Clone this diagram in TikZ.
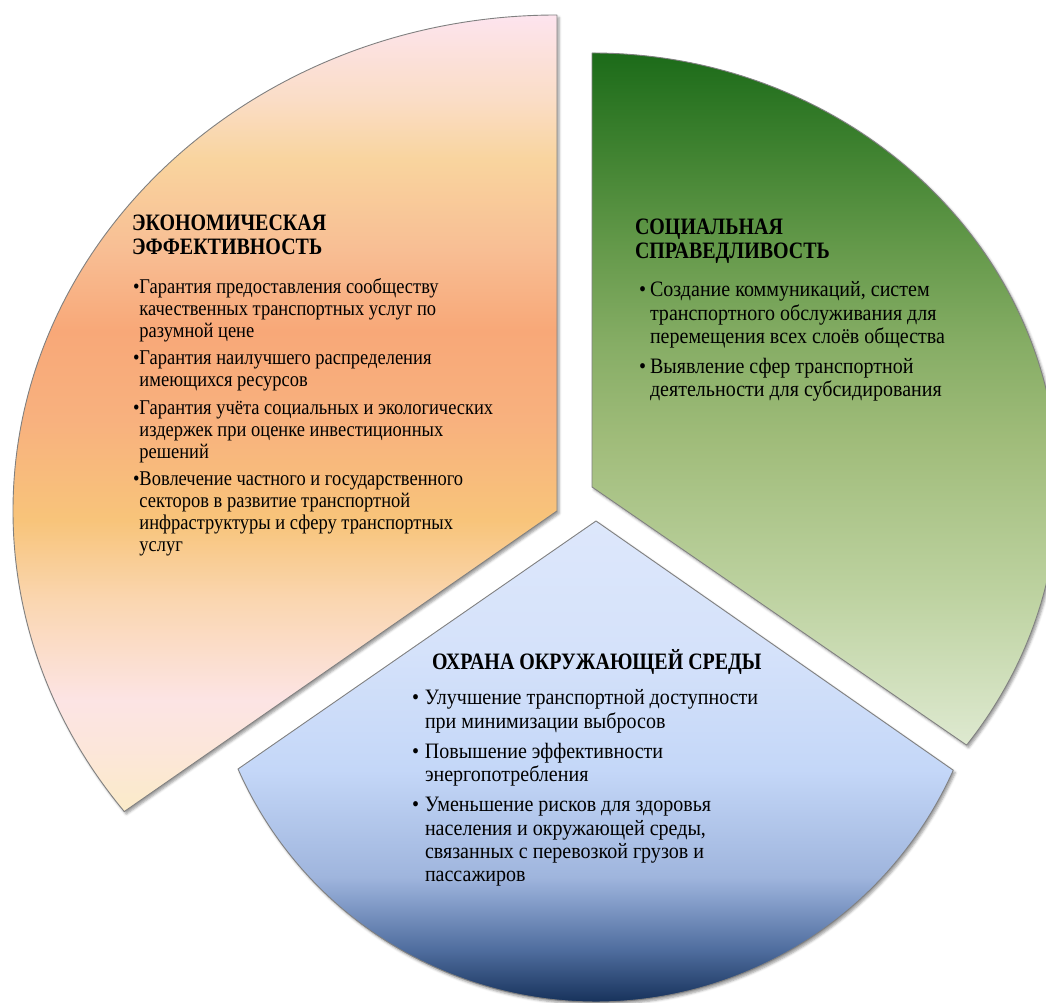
\documentclass[tikz,border=0pt]{standalone}
\usepackage{fontspec}
\setmainfont{Liberation Serif}[FakeStretch=0.91]
\newfontfamily\headfam{Liberation Serif}[FakeStretch=0.85]
\newfontfamily\econfam{Liberation Serif}[FakeStretch=0.88]
\usetikzlibrary{shadows.blur}

% outline and shading colours
\definecolor{edgegray}{HTML}{808080}

% economic sector: cream, pink, peach, orange, salmon, peach, pink (bottom to top)
\pgfdeclareverticalshading{econshade}{100bp}{%
  color(0bp)=(rgb,255:red,251;green,235;blue,200);
  color(25bp)=(rgb,255:red,251;green,235;blue,200);
  color(29bp)=(rgb,255:red,252;green,230;blue,218);
  color(32bp)=(rgb,255:red,252;green,228;blue,228);
  color(38.3bp)=(rgb,255:red,250;green,214;blue,176);
  color(43.3bp)=(rgb,255:red,248;green,196;blue,122);
  color(49.6bp)=(rgb,255:red,248;green,177;blue,126);
  color(55.2bp)=(rgb,255:red,248;green,168;blue,120);
  color(60.3bp)=(rgb,255:red,248;green,190;blue,148);
  color(65.9bp)=(rgb,255:red,249;green,212;blue,158);
  color(69.7bp)=(rgb,255:red,250;green,221;blue,198);
  color(75bp)=(rgb,255:red,253;green,228;blue,238);
  color(100bp)=(rgb,255:red,253;green,228;blue,238)}

% social sector: light green at the bottom to dark green at the top
\pgfdeclareverticalshading{socialshade}{100bp}{%
  color(0bp)=(rgb,255:red,222;green,233;blue,208);
  color(25bp)=(rgb,255:red,222;green,233;blue,208);
  color(36bp)=(rgb,255:red,189;green,210;blue,160);
  color(47bp)=(rgb,255:red,160;green,188;blue,122);
  color(54bp)=(rgb,255:red,134;green,173;blue,101);
  color(61bp)=(rgb,255:red,100;green,153;blue,74);
  color(68bp)=(rgb,255:red,63;green,130;blue,48);
  color(75bp)=(rgb,255:red,28;green,107;blue,25);
  color(100bp)=(rgb,255:red,28;green,107;blue,25)}

% environment sector: navy at the bottom to pale blue at the top
\pgfdeclareverticalshading{ecoshade}{100bp}{%
  color(0bp)=(rgb,255:red,23;green,50;blue,91);
  color(25bp)=(rgb,255:red,23;green,50;blue,91);
  color(30.4bp)=(rgb,255:red,79;green,109;blue,158);
  color(35.6bp)=(rgb,255:red,134;green,159;blue,203);
  color(38bp)=(rgb,255:red,159;green,181;blue,221);
  color(49.1bp)=(rgb,255:red,196;green,215;blue,248);
  color(61.6bp)=(rgb,255:red,213;green,226;blue,250);
  color(75bp)=(rgb,255:red,221;green,231;blue,251);
  color(100bp)=(rgb,255:red,221;green,231;blue,251)}

\newcommand\headfont{\headfam\bfseries\fontsize{23.5}{23.8}\selectfont}
\newcommand\econfont{\econfam\fontsize{21}{22}\selectfont}
\newcommand\bodyfont{\fontsize{22}{23.4}\selectfont}

\tikzset{
  econ shape/.style={insert path={(557,492) -- (557,988)
      arc[start angle=90, end angle=217.3, x radius=544pt, y radius=496pt] -- cycle}},
  social shape/.style={insert path={(592,516) -- (592,950)
      arc[start angle=90, end angle=-36.5, x radius=466pt, y radius=434pt] -- cycle}},
  eco shape/.style={insert path={(596,482) -- (238,234)
      arc[start angle=203.9, end angle=335.9, radius=391.5pt] -- cycle}},
  sector edge/.style={draw=edgegray, line width=0.9pt, line join=round},
  sector shadow/.style={fill=white, blur shadow={shadow xshift=2pt,
      shadow yshift=-2.5pt, shadow blur radius=2.5pt, shadow opacity=40}},
  txt/.style={anchor=base west, inner sep=0pt, outer sep=0pt},
}

\begin{document}
\begin{tikzpicture}[x=1pt, y=1pt]
  \useasboundingbox (0,0) rectangle (1046,1003);
  \clip (0,0) rectangle (1046,1003);

  % shadows under the three sectors
  \path[sector shadow, econ shape];
  \path[sector shadow, social shape];
  \path[sector shadow, eco shape];

  % gradient fills
  \begin{scope}
    \clip[econ shape];
    \shade[shading=econshade] (0,191) rectangle (1046,988);
  \end{scope}
  \begin{scope}
    \clip[social shape];
    \shade[shading=socialshade] (500,258) rectangle (1100,950);
  \end{scope}
  \begin{scope}
    \clip[eco shape];
    \shade[shading=ecoshade] (200,1) rectangle (1000,482);
  \end{scope}

  % outlines
  \draw[sector edge, econ shape];
  \draw[sector edge, social shape];
  \draw[sector edge, eco shape];

  % economic efficiency
  \node[txt] (econhead) at (132,772) {\headfont
    \begin{tabular}[t]{@{}l@{}}ЭКОНОМИЧЕСКАЯ\\ЭФФЕКТИВНОСТЬ\end{tabular}};
  \node[txt] (econlist) at (133,709.7) {\econfont
    \begin{tabular}[t]{@{}l@{}l@{}}
      •&Гарантия предоставления сообществу\\
       &качественных транспортных услуг по\\
       &разумной цене\\[5.5pt]
      •&Гарантия наилучшего распределения\\
       &имеющихся ресурсов\\[5.5pt]
      •&Гарантия учёта социальных и экологических\\
       &издержек при оценке инвестиционных\\
       &решений\\[5.5pt]
      •&Вовлечение частного и государственного\\
       &секторов в развитие транспортной\\
       &инфраструктуры и сферу транспортных\\
       &услуг
    \end{tabular}};

  % social justice
  \node[txt] (socialhead) at (635,768.5) {\headfont
    \begin{tabular}[t]{@{}l@{}}СОЦИАЛЬНАЯ\\СПРАВЕДЛИВОСТЬ\end{tabular}};
  \node[txt] (sociallist) at (639,706.3) {\bodyfont
    \begin{tabular}[t]{@{}l@{}l@{}}
      \makebox[11pt][l]{•}&Создание коммуникаций, систем\\
       &транспортного обслуживания для\\
       &перемещения всех слоёв общества\\[6.6pt]
      \makebox[11pt][l]{•}&Выявление сфер транспортной\\
       &деятельности для субсидирования
    \end{tabular}};

  % environmental protection
  \node[txt] (ecohead) at (432,333) {\headfont ОХРАНА ОКРУЖАЮЩЕЙ СРЕДЫ};
  \node[txt] (ecolist) at (412,298) {\bodyfont
    \begin{tabular}[t]{@{}l@{}l@{}}
      \makebox[13pt][l]{•}&Улучшение транспортной доступности\\
       &при минимизации  выбросов\\[6.6pt]
      \makebox[13pt][l]{•}&Повышение эффективности\\
       &энергопотребления\\[6.6pt]
      \makebox[13pt][l]{•}&Уменьшение рисков для здоровья\\
       &населения и окружающей среды,\\
       &связанных с перевозкой грузов и\\
       &пассажиров
    \end{tabular}};
\end{tikzpicture}
\end{document}
